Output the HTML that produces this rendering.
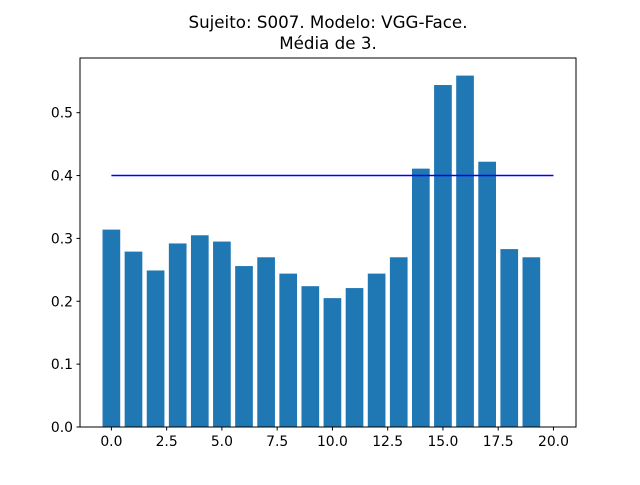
<!DOCTYPE html>
<html><head><meta charset="utf-8"><style>
body{margin:0;background:#fff;}
svg text{font-family:"DejaVu Sans","Liberation Sans",sans-serif;}
</style></head><body>
<svg id="chart" width="640" height="480">
<rect width="640" height="480" fill="#fff"/>
<text x="328" y="28" font-size="16.7" text-anchor="middle">Sujeito: S007. Modelo: VGG-Face.</text>
<text x="328" y="49" font-size="16.7" text-anchor="middle">Média de 3.</text>
<g id="marks"></g>
<rect x="80" y="58" width="496" height="369" fill="none" stroke="#000" stroke-width="1"/>
</svg>
<script>
const categories=[0,1,2,3,4,5,6,7,8,9,10,11,12,13,14,15,16,17,18,19];
const values=[0.314,0.279,0.249,0.292,0.305,0.295,0.256,0.270,0.244,0.224,0.205,0.221,0.244,0.270,0.411,0.544,0.559,0.422,0.283,0.270];
const refValue=0.4;
const refStart=0, refEnd=20;
const xTicks=[0,2.5,5,7.5,10,12.5,15,17.5,20];
const xTickLabels=["0.0","2.5","5.0","7.5","10.0","12.5","15.0","17.5","20.0"];
const yTicks=[0,0.1,0.2,0.3,0.4,0.5];
const yTickLabels=["0.0","0.1","0.2","0.3","0.4","0.5"];
const L=80,R=576,T=58,B=427;
const xMin=-1.42,xMax=21.02,yMin=0,yMax=0.587;
const sx=v=>L+(v-xMin)/(xMax-xMin)*(R-L);
const sy=v=>B-(v-yMin)/(yMax-yMin)*(B-T);
const ns="http://www.w3.org/2000/svg";
const g=document.getElementById('marks');
function mk(t,a){const e=document.createElementNS(ns,t);for(const k in a)e.setAttribute(k,a[k]);g.appendChild(e);return e;}
categories.forEach((c,i)=>{
 const x0=sx(c-0.4),x1=sx(c+0.4);
 const r=mk('rect',{x:x0,y:sy(values[i]),width:x1-x0,height:sy(0)-sy(values[i]),fill:'#1f77b4'});
 
 
});
const ln=mk('line',{x1:sx(refStart),x2:sx(refEnd),y1:sy(refValue),y2:sy(refValue),stroke:'#0000ff','stroke-width':1.5});


xTicks.forEach((v,i)=>{
 const x=sx(v);
 const t=mk('line',{x1:x,x2:x,y1:B,y2:B+3.5,stroke:'#000'});
 
 
 const tx=mk('text',{x:x,y:B+19,'font-size':13.9,'text-anchor':'middle'});
 tx.textContent=xTickLabels[i];
 
 
});
yTicks.forEach((v,i)=>{
 const y=sy(v);
 const t=mk('line',{x1:L-3.5,x2:L,y1:y,y2:y,stroke:'#000'});
 
 
 const tx=mk('text',{x:L-7,y:y+5,'font-size':13.9,'text-anchor':'end'});
 tx.textContent=yTickLabels[i];
 
 
});
</script>
</body></html>
